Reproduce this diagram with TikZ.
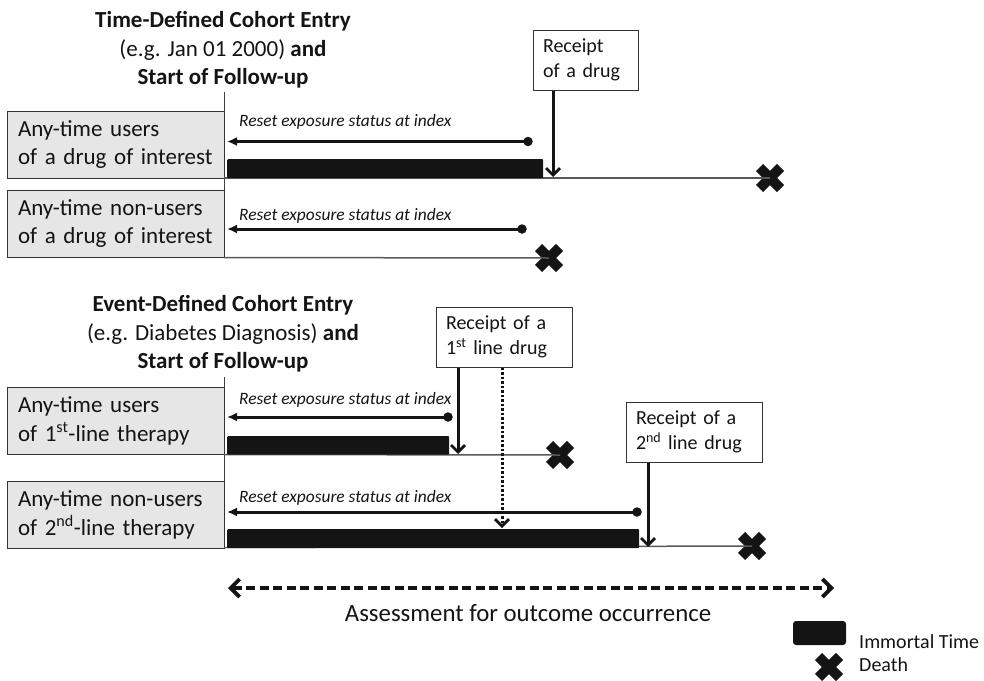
\documentclass[tikz,border=0pt]{standalone}
\usepackage{fontspec}
\setmainfont{Carlito}
\usetikzlibrary{arrows.meta,shapes.misc}
\definecolor{ink}{HTML}{141414}
\definecolor{boxgray}{HTML}{E6E6E6}
\begin{document}
\begin{tikzpicture}[x=1pt,y=-1pt,
  rowbox/.style={draw=black!80, fill=boxgray, line width=1pt, minimum width=217pt, minimum height=67pt,
    inner xsep=11pt, inner ysep=0pt, text width=195pt, align=left, text=ink,
    font=\fontsize{23}{28.5}\selectfont},
  recbox/.style={draw=black!80, fill=white, line width=1pt, minimum height=60pt,
    inner xsep=10pt, inner ysep=0pt, align=left, text=ink,
    font=\fontsize{20}{25}\selectfont},
  titlenode/.style={align=center, text=ink, font=\fontsize{23}{28.5}\selectfont, inner sep=0pt},
  resetlabel/.style={anchor=west, inner sep=0pt, text=ink, font=\fontsize{17.4}{20}\selectfont\itshape},
  bar/.style={fill=ink, inner sep=0pt, anchor=north west, rounded corners=1pt},
  enddot/.style={circle, fill=ink, inner sep=0pt, minimum size=9.5pt},
  resetarr/.style={draw=ink, line width=3pt, -{Latex[length=10pt,width=9pt]}},
  drugarr/.style={draw=ink, line width=3pt, -{Straight Barb[length=7pt,width=14pt,line width=2.8pt]}},
  dottedarr/.style={draw=ink, line width=3pt, dash pattern=on 2.5pt off 2pt,
    -{Straight Barb[length=7pt,width=14pt,line width=2.8pt]}},
  timeline/.style={draw=black!65, line width=1.5pt},
  vline/.style={draw=black!75, line width=1pt},
  deathx/.style={cross out, draw=ink, line width=10pt, minimum size=21pt, inner sep=0pt, outer sep=0pt},
  assess/.style={draw=ink, line width=4pt, dash pattern=on 9pt off 4.5pt,
    {Straight Barb[length=9pt,width=18pt,line width=3.8pt]}-{Straight Barb[length=9pt,width=18pt,line width=3.8pt]}},
]
\useasboundingbox (0,0) rectangle (984,680);

% ---------------- Top section ----------------
\node[titlenode] (t1) at (223,50) {\textbf{Time-Defined Cohort Entry}\\(e.g. Jan 01 2000) \textbf{and}\\\textbf{Start of Follow-up}};
\coordinate (v1top) at (224,92);
\coordinate (v1bot) at (224,258);
\draw[vline] (v1top) -- (v1bot);

\node[rowbox] (b1) at (115.5,144.5) {Any-time users\\of a drug of interest};
\node[rowbox] (b2) at (115.5,223.5) {Any-time non-users\\of a drug of interest};

% row 1
\coordinate (tl1) at (224,178);
\node[deathx] (x1) at (770,178) {};
\draw[timeline] (tl1) -- (x1.center);
\node[bar, minimum width=316pt, minimum height=19pt] (bar1) at (227,159) {};
\node[resetlabel] (l1) at (239,122) {Reset exposure status at index};
\node[enddot] (dot1) at (528,141.5) {};
\coordinate (tip1) at (227,141.5);
\draw[resetarr] (dot1.center) -- (tip1);
\node[recbox, text width=85pt] (r1) at (585.5,60) {Receipt\\of a drug};
\coordinate (d1) at (553,177);
\draw[drugarr] (r1.south -| d1) -- (d1);

% row 2
\coordinate (tl2) at (224,257.5);
\node[deathx] (x2) at (549,258) {};
\draw[timeline] (tl2) -- (x2.center);
\node[resetlabel] (l2) at (239,216) {Reset exposure status at index};
\node[enddot] (dot2) at (522,229) {};
\coordinate (tip2) at (227,229);
\draw[resetarr] (dot2.center) -- (tip2);

% ---------------- Bottom section ----------------
\node[titlenode] (t2) at (223,334) {\textbf{Event-Defined Cohort Entry}\\(e.g. Diabetes Diagnosis) \textbf{and}\\\textbf{Start of Follow-up}};
\coordinate (v2top) at (224,377);
\coordinate (v2bot) at (224,548);
\draw[vline] (v2top) -- (v2bot);

\node[rowbox] (b3) at (115.5,421) {Any-time users\\of 1\textsuperscript{st}-line therapy};
\node[rowbox] (b4) at (115.5,515) {Any-time non-users\\of 2\textsuperscript{nd}-line therapy};

% row 3
\coordinate (tl3) at (224,454.5);
\node[deathx] (x3) at (560,455) {};
\draw[timeline] (tl3) -- (x3.center);
\node[bar, minimum width=222pt, minimum height=18.5pt] (bar3) at (227,436) {};
\node[resetlabel] (l3) at (239,400) {Reset exposure status at index};
\node[enddot] (dot3) at (448,417) {};
\coordinate (tip3) at (227,417);
\draw[resetarr] (dot3.center) -- (tip3);

% row 4
\coordinate (tl4) at (224,547.5);
\node[deathx] (x4) at (752,546) {};
\draw[timeline] (tl4) -- (x4.center);
\node[bar, minimum width=412pt, minimum height=19pt] (bar4) at (227,529) {};
\node[resetlabel] (l4) at (239,498) {Reset exposure status at index};
\node[enddot] (dot4) at (637,512) {};
\coordinate (tip4) at (227,512);
\draw[resetarr] (dot4.center) -- (tip4);

% receipt boxes
\node[recbox, text width=116pt] (r2) at (504,337) {Receipt of a\\1\textsuperscript{st} line drug};
\coordinate (d2) at (458,454);
\draw[drugarr] (r2.south -| d2) -- (d2);
\coordinate (d2b) at (502,528);
\draw[dottedarr] (r2.south -| d2b) -- (d2b);

\node[recbox, text width=116pt] (r3) at (694,432) {Receipt of a\\2\textsuperscript{nd} line drug};
\coordinate (d3) at (648,547);
\draw[drugarr] (r3.south -| d3) -- (d3);

% assessment
\coordinate (a1) at (228,588);
\coordinate (a2) at (834,588);
\draw[assess] (a1) -- (a2);
\node[text=ink, font=\fontsize{24.8}{28}\selectfont, inner sep=0pt] (alab) at (528,613) {Assessment for outcome occurrence};

% legend
\node[fill=ink, minimum width=53pt, minimum height=24pt, inner sep=0pt, rounded corners=3pt] (lg1) at (819.5,633) {};
\node[anchor=west, inner sep=0pt, text=ink, font=\fontsize{20}{23}\selectfont] (lgt1) at (859,642) {Immortal Time};
\node[deathx] (lg2) at (829,667) {};
\node[anchor=west, inner sep=0pt, text=ink, font=\fontsize{20}{23}\selectfont] (lgt2) at (859,665) {Death};
\end{tikzpicture}
\end{document}
